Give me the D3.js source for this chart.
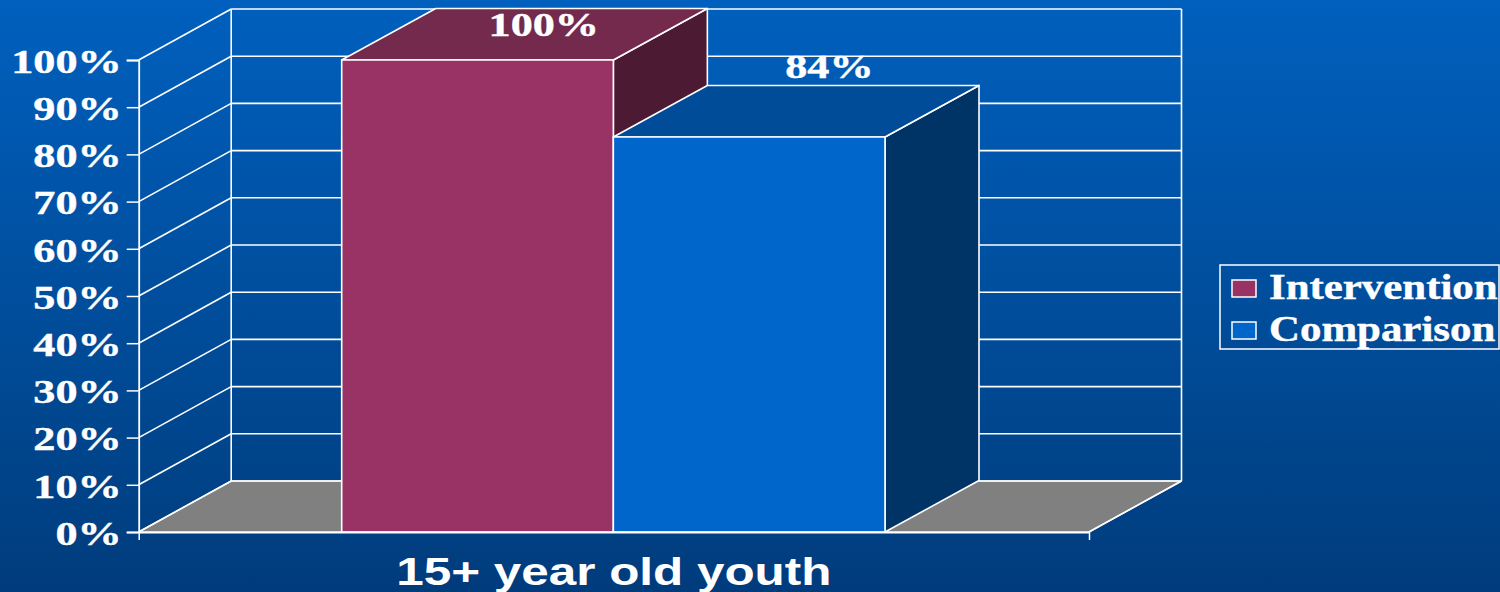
<!DOCTYPE html>
<html>
<head>
<meta charset="utf-8">
<script src="https://cdn.jsdelivr.net/npm/d3@7"></script>
<style>
html, body { margin: 0; padding: 0; overflow: hidden; background: #003c7c; }
svg { display: block; }
text { fill: #fff; }
.heavy { stroke: #fff; stroke-width: 0.4px; }
</style>
</head>
<body>
<div id="chart"></div>
<script>
/* DATA */
const categories = ["15+ year old youth"];
const seriesNames = ["Intervention", "Comparison"];
const seriesValues = [100, 83.7];
const valueLabels = ["100%", "84%"];
const yTicks = [0, 10, 20, 30, 40, 50, 60, 70, 80, 90, 100];

/* CONSTANTS AND GLOBALS */
const width = 1500;
const height = 592;
const left = 138.7;
const right = 1089;
const bottom = 532;
const top100 = 60;
const depthX = 92.5;
const depthY = -51;
const barDepthX = 94;
const barDepthY = -51.5;
const serif = "'Liberation Serif', serif";

const faces = [
    { front: "#993366", top: "#732a4d", side: "#4d1a33", labelDx: 20, labelY: 36 },
    { front: "#0066cc", top: "#004c99", side: "#003366", labelDx: 34, labelY: 78 }
];

const svg = d3.select("#chart")
    .append("svg")
    .attr("width", width)
    .attr("height", height);

// background
const grad = svg.append("defs").append("linearGradient")
    .attr("id", "bg")
    .attr("x1", 0).attr("x2", 0).attr("y1", 0).attr("y2", 1);
grad.append("stop").attr("offset", "0%").attr("stop-color", "#0060be");
grad.append("stop").attr("offset", "100%").attr("stop-color", "#003c7c");

svg.append("rect")
    .attr("width", width)
    .attr("height", height)
    .attr("fill", "url(#bg)");

/* SCALES */
const yScale = d3.scaleLinear()
    .domain([0, 100])
    .range([bottom, top100]);

const xScale = d3.scaleBand()
    .domain(categories)
    .range([left, right]);

const barScale = d3.scaleBand()
    .domain(seriesNames)
    .range([xScale(categories[0]) + 203, xScale(categories[0]) + xScale.bandwidth() - 204]);

const line = "#fff";
const poly = pts => pts.map(p => p.join(",")).join(" ");

// floor
svg.append("polygon")
    .attr("points", poly([[left, bottom], [right, bottom], [right + depthX, bottom + depthY], [left + depthX, bottom + depthY]]))
    .attr("fill", "#808080")
    .attr("stroke", "#ddd")
    .attr("stroke-width", 1.5);

// walls: lines on the side wall and the back wall
const grid = svg.append("g")
    .attr("fill", "none")
    .attr("stroke", line)
    .attr("stroke-width", 1.6);

grid.selectAll(".side")
    .data(yTicks)
    .join("line")
    .attr("class", "side")
    .attr("x1", left)
    .attr("y1", d => yScale(d))
    .attr("x2", left + depthX)
    .attr("y2", d => yScale(d) + depthY);

grid.selectAll(".back")
    .data(yTicks)
    .join("line")
    .attr("class", "back")
    .attr("x1", left + depthX)
    .attr("y1", d => yScale(d) + depthY)
    .attr("x2", right + depthX)
    .attr("y2", d => yScale(d) + depthY);

grid.append("line")
    .attr("x1", left + depthX).attr("x2", left + depthX)
    .attr("y1", yScale(0) + depthY).attr("y2", yScale(100) + depthY);

grid.append("line")
    .attr("x1", right + depthX).attr("x2", right + depthX)
    .attr("y1", yScale(0) + depthY).attr("y2", yScale(100) + depthY);

grid.append("line")
    .attr("x1", right).attr("x2", right + depthX)
    .attr("y1", bottom).attr("y2", bottom + depthY);

/* BARS */
const bars = svg.selectAll(".bar")
    .data(seriesNames)
    .join("g")
    .attr("class", "bar")
    .attr("stroke", "#fff")
    .attr("stroke-width", 1.6)
    .attr("stroke-linejoin", "round");

bars.append("polygon")
    .attr("fill", (d, i) => faces[i].side)
    .attr("points", (d, i) => {
        const x = barScale(d) + barScale.bandwidth();
        const y = yScale(seriesValues[i]);
        return poly([[x, y], [x + barDepthX, y + barDepthY], [x + barDepthX, bottom + barDepthY], [x, bottom]]);
    });

bars.append("polygon")
    .attr("fill", (d, i) => faces[i].top)
    .attr("points", (d, i) => {
        const x = barScale(d);
        const w = barScale.bandwidth();
        const y = yScale(seriesValues[i]);
        return poly([[x, y], [x + w, y], [x + w + barDepthX, y + barDepthY], [x + barDepthX, y + barDepthY]]);
    });

bars.append("rect")
    .attr("fill", (d, i) => faces[i].front)
    .attr("x", d => barScale(d))
    .attr("y", (d, i) => yScale(seriesValues[i]))
    .attr("width", barScale.bandwidth())
    .attr("height", (d, i) => bottom - yScale(seriesValues[i]));

/* AXES */
const yAxis = d3.axisLeft(yScale)
    .tickValues(yTicks)
    .tickSize(12)
    .tickFormat(d => d + "%");

const yG = svg.append("g")
    .attr("transform", "translate(" + left + ",0)")
    .call(yAxis);

yG.select(".domain").attr("stroke", line).attr("stroke-width", 1.8);
yG.selectAll(".tick line").attr("stroke", line).attr("stroke-width", 1.5);
yG.selectAll(".tick text")
    .attr("class", "heavy")
    .attr("x", 0)
    .attr("dy", 0)
    .attr("y", 0)
    .attr("text-anchor", "end")
    .attr("dominant-baseline", "central")
    .attr("transform", "translate(-17,1) scale(1.3,1)")
    .style("font-family", serif)
    .style("font-weight", "bold")
    .style("font-size", "34px")
    .style("fill", "#fff");

const xAxis = d3.axisBottom(d3.scaleLinear().domain([0, 1]).range([left, right]))
    .tickValues([0, 1])
    .tickSize(8)
    .tickSizeOuter(0)
    .tickFormat("");

const xG = svg.append("g")
    .attr("transform", "translate(0," + bottom + ")")
    .call(xAxis);

xG.select(".domain").attr("stroke", line).attr("stroke-width", 2);
xG.selectAll(".tick line").attr("stroke", line).attr("stroke-width", 1.5);

/* LABELS */
svg.append("text")
    .attr("transform", "translate(" + (xScale(categories[0]) + xScale.bandwidth() / 2) + ",585) scale(1.3,1)")
    .attr("text-anchor", "middle")
    .style("font-family", "'Liberation Sans', sans-serif")
    .style("font-weight", "bold")
    .style("font-size", "38px")
    .text(categories[0]);

svg.selectAll(".value")
    .data(seriesNames)
    .join("text")
    .attr("class", "value heavy")
    .attr("transform", (d, i) => "translate(" + (barScale(d) + barScale.bandwidth() / 2 + depthX / 2 + faces[i].labelDx) + "," + faces[i].labelY + ") scale(1.3,1)")
    .attr("text-anchor", "middle")
    .style("font-family", serif)
    .style("font-weight", "bold")
    .style("font-size", "34px")
    .text((d, i) => valueLabels[i]);

/* LEGEND */
svg.append("rect")
    .attr("x", 1220)
    .attr("y", 265)
    .attr("width", 279)
    .attr("height", 84)
    .attr("fill", "none")
    .attr("stroke", "#fff")
    .attr("stroke-width", 1.5);

const legend = svg.selectAll(".legend")
    .data(seriesNames)
    .join("g")
    .attr("class", "legend")
    .attr("transform", (d, i) => "translate(1232," + (280 + i * 42) + ")");

legend.append("rect")
    .attr("width", 24)
    .attr("height", 17)
    .attr("fill", (d, i) => faces[i].front)
    .attr("stroke", "#fff")
    .attr("stroke-width", 1.5);

legend.append("text")
    .attr("class", "heavy")
    .attr("transform", "translate(37,19) scale(1.225,1)")
    .style("font-family", serif)
    .style("font-weight", "bold")
    .style("font-size", "35px")
    .text(d => d);
</script>
</body>
</html>
